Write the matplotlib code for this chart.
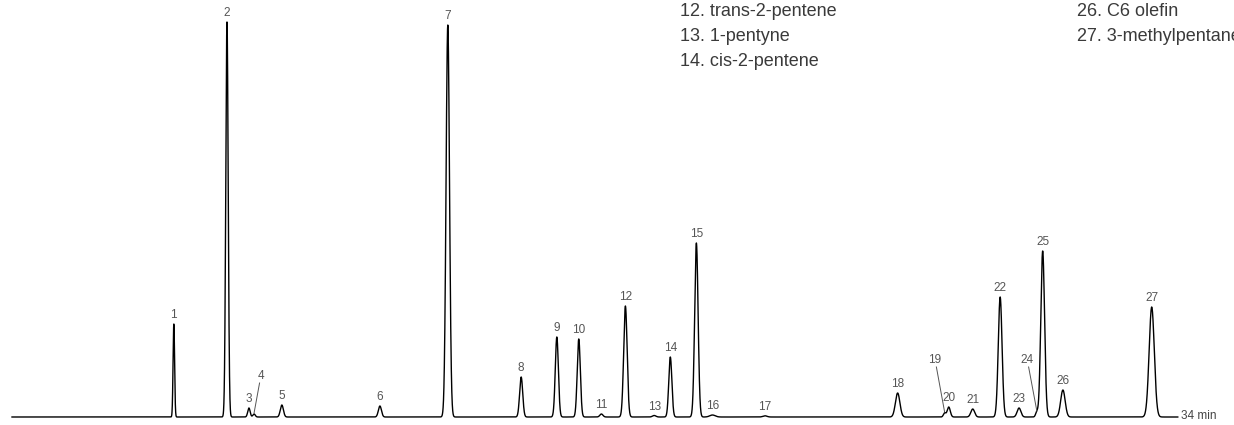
#!/usr/bin/env python3
""" gas chromatogram of light hydrocarbons with numbered peaks """
import numpy as np
import matplotlib
matplotlib.use("Agg")
import matplotlib.pyplot as plt

plt.rcParams['font.family'] = ['Liberation Sans', 'DejaVu Sans']

# retention time (min), height (arbitrary units), peak sigma (min)
peak_ids = [str(i) for i in range(1, 28)]
ret_times = [4.72, 6.27, 6.91, 7.06, 7.87, 10.73, 12.71, 14.85, 15.89, 16.53,
             17.19, 17.89, 18.73, 19.20, 19.96, 20.43, 21.96, 25.83, 27.20, 27.32,
             28.02, 28.82, 29.37, 29.89, 30.06, 30.65, 33.24]
heights = [93, 395, 9, 3, 12, 11, 392, 40, 80, 78,
           3, 111, 1.5, 60, 174, 2, 1.2, 24, 4, 10,
           8, 120, 9, 5, 166, 27, 110]
widths = [0.022, 0.035, 0.035, 0.035, 0.045, 0.045, 0.05, 0.045, 0.045, 0.045,
          0.045, 0.05, 0.05, 0.045, 0.05, 0.08, 0.06, 0.065, 0.035, 0.045,
          0.055, 0.055, 0.055, 0.035, 0.055, 0.065, 0.075]

# peaks whose labels sit off to the side with a leader line: (dx min, label height)
offset_labels = {'4': (0.2, 41), '19': (-0.3, 57), '24': (-0.3, 57)}

legend_col1 = ["12. trans-2-pentene", "13. 1-pentyne", "14. cis-2-pentene"]
legend_col2 = ["26. C6 olefin", "27. 3-methylpentane"]

t = np.linspace(0, 34, 30000)
signal = np.zeros_like(t)
for rt, h, w in zip(ret_times, heights, widths):
    signal += h * np.exp(-0.5 * ((t - rt) / w) ** 2)

fig = plt.figure(figsize=(12.34, 4.25), dpi=100)
ax = fig.add_axes([0, 0, 1, 1])
ax.plot(t, signal, color='black', lw=1.0)
ax.set_xlim(-0.35, 35.64)
ax.set_ylim(-8, 417)
ax.axis('off')

label_color = '#555555'
for pid, rt, h in zip(peak_ids, ret_times, heights):
    if pid in offset_labels:
        dx, ly = offset_labels[pid]
        ax.text(rt + dx, ly, pid, ha='center', va='center', fontsize=8.5, color=label_color)
        ax.plot([rt + dx * 0.8, rt], [ly - 7, h + 1], color=label_color, lw=0.7)
    else:
        ax.text(rt, h + 9, pid, ha='center', va='center', fontsize=8.5, color=label_color)

ax.text(34.1, 1, "34 min", ha='left', va='center', fontsize=8.5, color='#444444')

# compound list, baselines in pixels from the top
for col_x, entries in ((680, legend_col1), (1077, legend_col2)):
    for i, s in enumerate(entries):
        fig.text(col_x / 1234, 1 - (16.5 + 24.5 * i) / 425, s, ha='left', va='baseline',
                 fontsize=13, color='#3a3a3a')

fig.savefig("out.png", dpi=100)
